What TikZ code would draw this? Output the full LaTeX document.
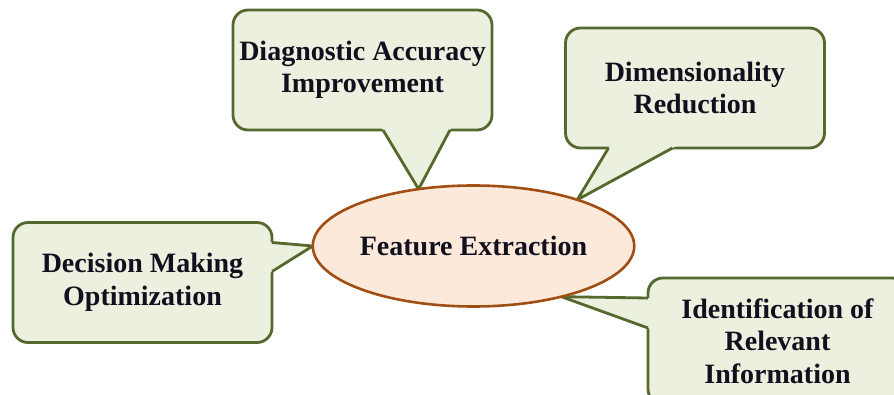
\documentclass[tikz,border=0pt]{standalone}
\usepackage{fontspec}
\setmainfont{Liberation Serif}
\usetikzlibrary{shapes.geometric,calc}

\definecolor{boxfill}{HTML}{EBF1DE}
\definecolor{boxline}{HTML}{55692F}
\definecolor{ovalfill}{HTML}{FDE9D9}
\definecolor{ovalline}{HTML}{A04E14}
\definecolor{ink}{HTML}{10101E}

\pgfdeclarelayer{back}
\pgfsetlayers{back,main}

\begin{document}
\begin{tikzpicture}[x=1pt,y=-1pt,
  labelfont/.style={font=\fontsize{28}{32.5}\selectfont\bfseries, text=ink},
  bubble/.style={labelfont, draw=boxline, fill=boxfill, line width=2.8pt,
    rounded corners=15pt, minimum width=259pt, minimum height=120pt,
    inner sep=0pt, outer sep=0pt, align=center},
  oval/.style={labelfont, ellipse, draw=ovalline, fill=ovalfill, line width=2.6pt,
    minimum width=317pt, minimum height=121pt, inner sep=0pt, outer sep=0pt},
  tailfill/.style={fill=boxfill},
  tailline/.style={draw=boxline, line width=2.8pt, line join=miter}]

  \useasboundingbox (0,0) rectangle (894,395);
  \clip (0,0) rectangle (894,395);

  % central ellipse
  \node[oval] (fe) at (473.5,246) {Feature Extraction};

  \begin{pgfonlayer}{back}
    % speech bubbles
    \node[bubble] (dai) at (362.5,70) {Diagnostic Accuracy\\Improvement};
    \node[bubble] (dr)  at (695,88)   {Dimensionality\\Reduction};
    \node[bubble] (dmo) at (142.5,282.5) {Decision Making\\Optimization};
    \node[bubble, minimum height=126pt] (iri) at (777.5,341)
      {Identification of\\Relevant\\Information};

    % tail base points on the bubble edges
    \coordinate (a1) at ($(dai.south west)+(150,0)$);
    \coordinate (a2) at ($(dai.south west)+(217,0)$);
    \coordinate (b1) at ($(dr.south west)+(43,0)$);
    \coordinate (b2) at ($(dr.south west)+(107,0)$);
    \coordinate (c1) at ($(dmo.north east)+(0,20)$);
    \coordinate (c2) at ($(dmo.north east)+(0,49)$);
    \coordinate (d1) at ($(iri.north west)+(0,20)$);
    \coordinate (d2) at ($(iri.north west)+(0,50)$);

    % tails pointing at the ellipse
    \foreach \p/\q/\t in {a1/a2/134, b1/b2/24, c1/c2/180, d1/d2/-30}{
      \fill[tailfill] ($(fe.\t)!1.08!(\p)$) -- (fe.\t) -- ($(fe.\t)!1.08!(\q)$) -- cycle;
      \draw[tailline] (\p) -- (fe.\t) -- (\q);
    }
  \end{pgfonlayer}
\end{tikzpicture}
\end{document}
